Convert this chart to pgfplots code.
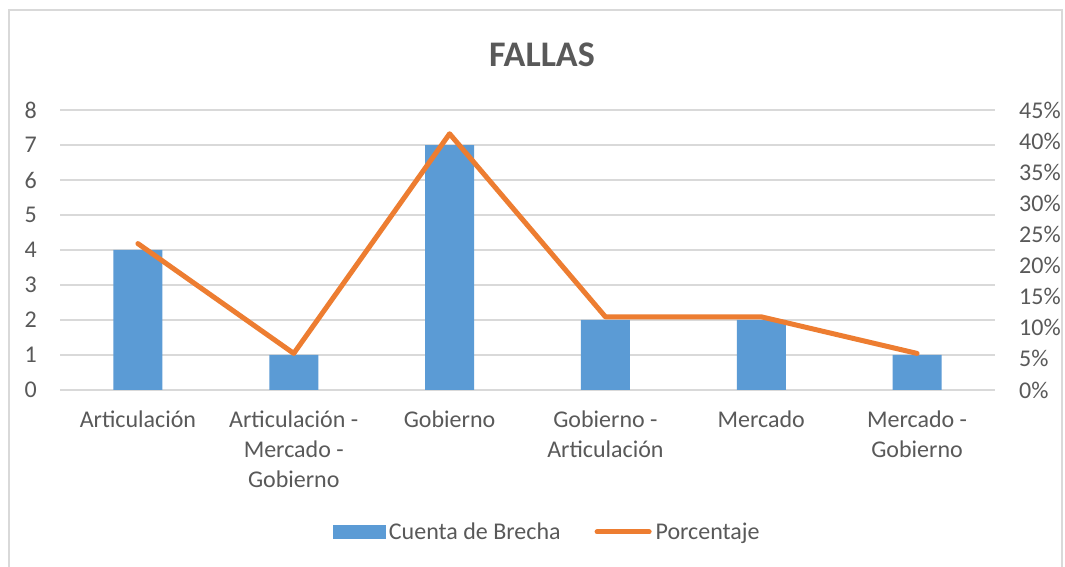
\documentclass[border=0pt]{standalone}
\usepackage{pgfplots}
\pgfplotsset{compat=1.18}
\usepackage{fontspec}
\setmainfont{Carlito}
\definecolor{barblue}{HTML}{5B9BD5}
\definecolor{lineorange}{HTML}{ED7D31}
\definecolor{txtgray}{HTML}{595959}
\definecolor{gridgray}{HTML}{D9D9D9}
\definecolor{framegray}{HTML}{D9D9D9}

\pgfplotsset{
  base/.style={
    at={(60pt,177pt)}, anchor=south west,
    width=935pt, height=280pt, scale only axis,
    xmin=-0.5, xmax=5.5,
    axis line style={draw=none},
    major tick style={draw=none},
    tick label style={font=\fontsize{24}{30}\selectfont, text=txtgray},
    /pgf/number format/assume math mode=true,
  },
}

\begin{document}
\begin{tikzpicture}
\useasboundingbox (0,0) rectangle (1065pt,567pt);
\fill[white] (0,0) rectangle (1065pt,567pt);
\draw[framegray, line width=1.5pt] (9pt,-10pt) rectangle (1062pt,557pt);
\node[font=\fontsize{36}{40}\selectfont\bfseries, text=txtgray] at (542pt,512pt) {FALLAS};

% bars: Cuenta de Brecha
\begin{axis}[base,
  ymin=0, ymax=8, ytick={0,1,...,8},
  ymajorgrids, grid style={gridgray, line width=1.5pt},
  axis y line*=left,
  yticklabel style={anchor=east, inner sep=0pt, xshift=-23pt},
  xtick={0,...,5},
  xticklabels={Articulación, Articulación -\\Mercado -\\Gobierno, Gobierno, Gobierno -\\Articulación, Mercado, Mercado -\\Gobierno},
  xticklabel style={align=center, anchor=north, inner sep=0pt, yshift=-21pt},
]
\addplot[ybar, bar width=49pt, fill=barblue, draw=none] coordinates {
  (0,4) (1,1) (2,7) (3,2) (4,2) (5,1)
};
\end{axis}

% line: Porcentaje
\begin{axis}[base,
  ymin=0, ymax=0.45, ytick={0,0.05,...,0.451},
  axis y line*=right, axis x line=none,
  yticklabel={\pgfmathparse{\tick*100}\pgfmathprintnumber[fixed,precision=0]{\pgfmathresult}\%},
  yticklabel style={anchor=west, inner sep=0pt, xshift=24pt},
  legend columns=2,
  legend style={at={(0.522,-0.507)}, anchor=center, draw=none, fill=none,
    font=\fontsize{24}{30}\selectfont, text=txtgray,
    /tikz/every even column/.append style={column sep=30pt},
    nodes={inner sep=4pt}},
]
\addlegendimage{legend image code/.code={\fill[barblue] (0pt,-6.5pt) rectangle (52pt,6.5pt);}}
\addlegendentry{Cuenta de Brecha}
\addplot[lineorange, line width=5pt, line cap=round, line join=round,
  legend image code/.code={\draw[lineorange, line width=5pt, line cap=round] (2pt,0pt) -- (54pt,0pt);}]
  coordinates {
  (0,0.2353) (1,0.0588) (2,0.4118) (3,0.1176) (4,0.1176) (5,0.0588)
};
\addlegendentry{Porcentaje}
\end{axis}
\end{tikzpicture}
\end{document}
